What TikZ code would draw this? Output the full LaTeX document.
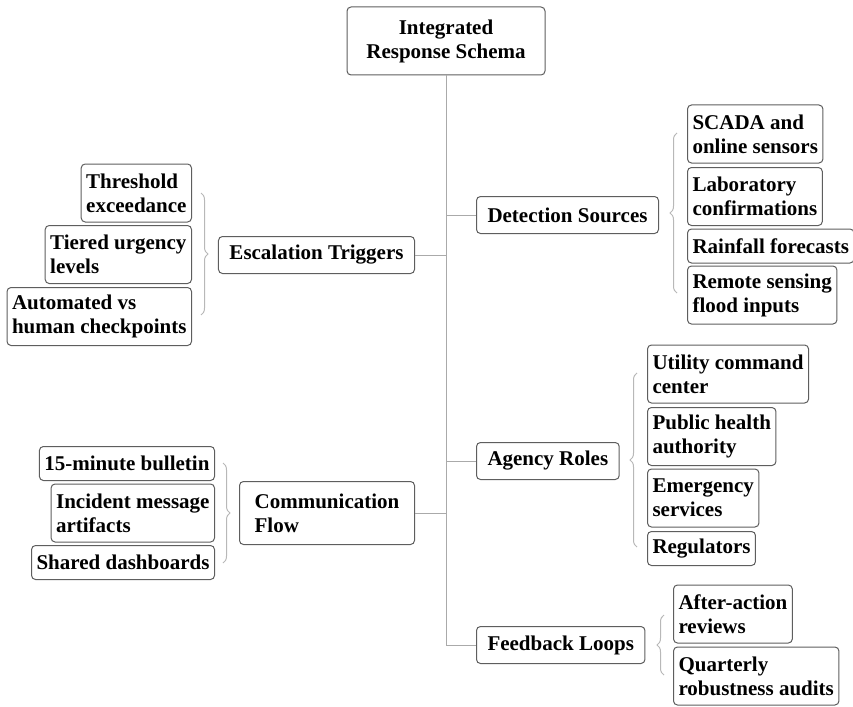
\documentclass[tikz,border=0pt]{standalone}
\usepackage{fontspec}
\setmainfont{Liberation Serif}
\usetikzlibrary{decorations.pathreplacing}
\definecolor{boxgray}{HTML}{5E5E5E}
\definecolor{linegray}{HTML}{AAAAAA}
\definecolor{bracegray}{HTML}{B8B8B8}
\begin{document}
\begin{tikzpicture}[x=1pt,y=-1pt,
  box/.style={draw=boxgray, line width=1pt, rounded corners=4pt, fill=white,
    font=\fontsize{21}{24}\selectfont\bfseries, align=left, inner xsep=5pt, inner ysep=2pt},
  one/.style={box, minimum height=34pt},
  two/.style={box, minimum height=58pt},
  mainbox/.style={box, inner xsep=11pt, minimum height=37pt},
  conn/.style={draw=linegray, line width=1pt},
  brc/.style={draw=bracegray, line width=1pt, decorate, decoration={brace, amplitude=7pt}}]
\useasboundingbox (0,0) rectangle (853,706);

% root
\node[box, align=center, minimum width=198pt, minimum height=68pt] (root) at (446,41) {Integrated\\Response Schema};

% main branches
\node[mainbox, anchor=west] (det) at (476,215) {Detection Sources};
\node[mainbox, anchor=east] (esc) at (415,255) {Escalation Triggers};
\node[mainbox, anchor=west] (age) at (476,461) {Agency Roles};
\node[mainbox, anchor=east, minimum width=175pt, minimum height=63pt] (com) at (415,513) {Communication\\Flow};
\node[mainbox, anchor=west] (fb) at (476,645) {Feedback Loops};

% trunk and branch connectors
\draw[conn] (root.south) -- (root.south |- fb.west) -- (fb.west);
\draw[conn] (det.west) -- (det.west -| root.south);
\draw[conn] (esc.east) -- (esc.east -| root.south);
\draw[conn] (age.west) -- (age.west -| root.south);
\draw[conn] (com.east) -- (com.east -| root.south);

% detection children
\node[two, anchor=west] (d1) at (687,134) {SCADA and\\online sensors};
\node[two, anchor=west] (d2) at (687,196.5) {Laboratory\\confirmations};
\node[one, anchor=west] (d3) at (687,246) {Rainfall forecasts};
\node[two, anchor=west] (d4) at (687,295) {Remote sensing\\flood inputs};
\draw[brc] (677,293) -- (677,133);

% escalation children
\node[two, anchor=east] (e1) at (192,193) {Threshold\\exceedance};
\node[two, anchor=east] (e2) at (192,254.5) {Tiered urgency\\levels};
\node[two, anchor=east] (e3) at (192,316.5) {Automated vs\\human checkpoints};
\draw[brc] (201,193) -- (201,315);

% agency children
\node[two, anchor=west] (a1) at (647,374) {Utility command\\center};
\node[two, anchor=west] (a2) at (647,436.5) {Public health\\authority};
\node[two, anchor=west] (a3) at (647,498) {Emergency\\services};
\node[one, anchor=west] (a4) at (647,548.5) {Regulators};
\draw[brc] (637,547) -- (637,373);

% communication children
\node[one, anchor=east] (c1) at (215,463.5) {15-minute bulletin};
\node[two, anchor=east] (c2) at (215,513) {Incident message\\artifacts};
\node[one, anchor=east] (c3) at (215,562.5) {Shared dashboards};
\draw[brc] (223,463) -- (223,563);

% feedback children
\node[two, anchor=west] (f1) at (673,614) {After-action\\reviews};
\node[two, anchor=west] (f2) at (673,676) {Quarterly\\robustness audits};
\draw[brc] (664,675) -- (664,615);
\end{tikzpicture}
\end{document}
